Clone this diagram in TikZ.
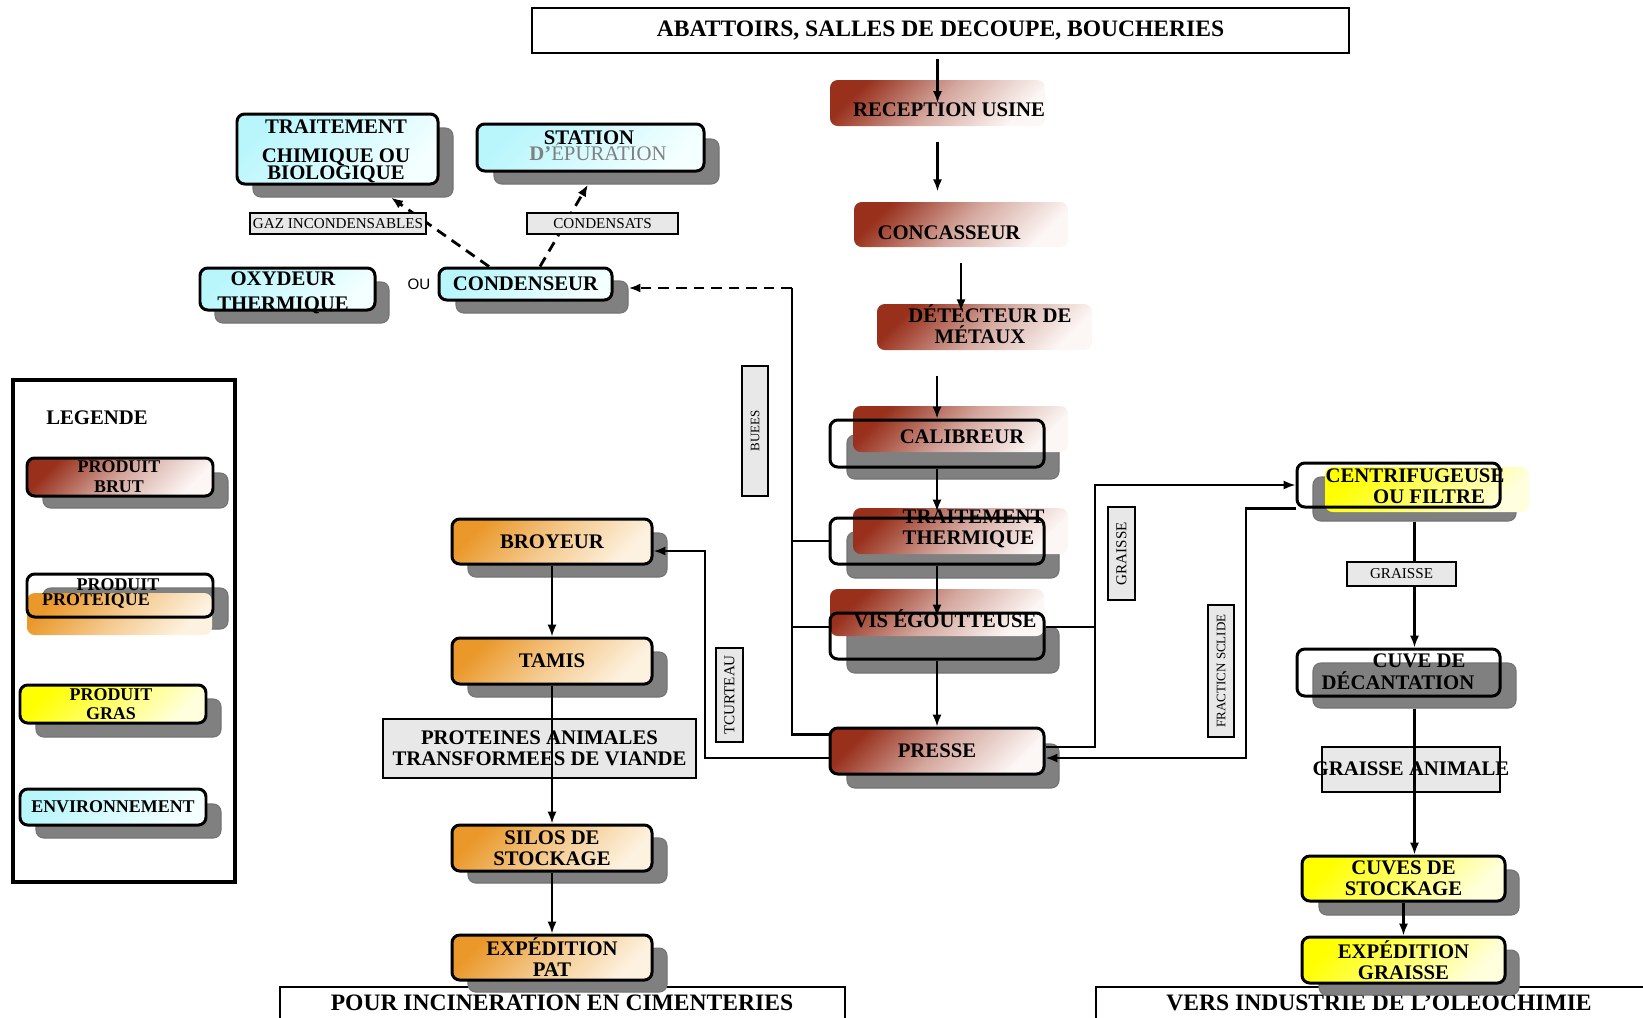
\documentclass[tikz,border=0pt]{standalone}
\usepackage{fontspec}
\setmainfont{Liberation Serif}
\newfontfamily\ousans{Liberation Sans}
\usepackage{tikz}
\usetikzlibrary{arrows.meta, fit}

\definecolor{brunD}{RGB}{152,48,28}
\definecolor{brunL}{RGB}{252,246,244}
\definecolor{orD}{RGB}{234,152,42}
\definecolor{orL}{RGB}{253,242,224}
\definecolor{jauneD}{RGB}{255,255,0}
\definecolor{jauneL}{RGB}{255,255,222}
\definecolor{cyanD}{RGB}{184,246,252}
\definecolor{cyanL}{RGB}{244,255,255}
\definecolor{ombreG}{RGB}{128,128,128}
\definecolor{etiqG}{RGB}{232,232,232}

\newcommand{\grandfont}{\bfseries\fontsize{6.7pt}{7pt}\selectfont}
\newcommand{\boitefont}{\bfseries\fontsize{5.9pt}{6pt}\selectfont}
\newcommand{\legfont}{\bfseries\fontsize{5.1pt}{5.5pt}\selectfont}
\newcommand{\petitfont}{\mdseries\fontsize{4.3pt}{5pt}\selectfont}
\newcommand{\minifont}{\mdseries\fontsize{3.7pt}{4.5pt}\selectfont}

\begin{document}
\begin{tikzpicture}[x=0.01cm, y=-0.01cm, font=\boitefont,
  boite/.style={inner sep=0pt, rounded corners=2.2pt},
  brut/.style={boite, top color=brunD, bottom color=brunL,
    middle color=brunD!40!brunL, shading angle=45},
  prot/.style={boite, top color=orD, bottom color=orL,
    middle color=orD!45!orL, shading angle=45},
  gras/.style={boite, top color=jauneD, bottom color=jauneL, shading angle=45},
  envir/.style={boite, top color=cyanD, bottom color=cyanL, shading angle=45},
  bord/.style={draw=black, line width=0.85pt},
  contour/.style={boite, bord},
  ombre/.style={boite, fill=ombreG, draw=black!55, line width=0.3pt},
  etiq/.style={draw=black, fill=etiqG, line width=0.6pt, inner sep=0pt,
    font=\petitfont},
  cadre/.style={draw=black, line width=0.6pt, inner sep=0pt},
  txt/.style={inner sep=0pt, align=center},
  trait/.style={line width=0.6pt},
  fleche/.style={trait, -{Latex[length=3.4pt, width=2.6pt]}},
  tiret/.style={line width=0.8pt, dash pattern=on 3pt off 2pt,
    -{Latex[length=3.4pt, width=2.6pt]}},
]
  \path[use as bounding box, clip] (0,0) rectangle (1643,1017);

  \node[cadre, fit={(532,8) (1349,53)}] (abat) {};
  \node[txt, font=\grandfont] (t-abat) at (abat) {ABATTOIRS, SALLES DE DECOUPE, BOUCHERIES};
  \node[cadre, fill=white, fit={(280,987) (845,1040)}] (incin) {};
  \node[txt, font=\grandfont] (t-incin) at (562,1003) {POUR INCINERATION EN CIMENTERIES};
  \node[cadre, fill=white, fit={(1096,987) (1660,1040)}] (oleo) {};
  \node[txt, font=\grandfont] (t-oleo) at (1379,1003) {VERS INDUSTRIE DE L’OLEOCHIMIE};

  % colonne produit brut
  \node[brut, fit={(830,80) (1045,126)}] (recep) {};
  \node[txt] (t-recep) at (949,110) {RECEPTION USINE};
  \node[brut, fit={(854,202) (1068,247)}] (conc) {};
  \node[txt] (t-conc) at (949,233) {CONCASSEUR};
  \node[brut, fit={(877,304) (1092,350)}] (detect) {};
  \node[txt] (t-detect) at (985,324) {\hspace*{0.1cm}DÉTECTEUR DE\\\hspace*{-0.1cm}MÉTAUX};

  \node[ombre, fit={(847,435) (1059,479)}] (calib-o) {};
  \node[brut, fit={(853,406) (1068,452)}] (calib-g) {};
  \node[contour, fit={(830,420) (1044,467)}] (calib) {};
  \node[txt] (t-calib) at (962,437) {CALIBREUR};

  \node[ombre, fit={(847,532) (1059,578)}] (therm-o) {};
  \node[brut, fit={(853,508) (1068,554)}] (therm-g) {};
  \node[contour, fit={(830,518) (1044,564)}] (therm) {};
  \node[txt, align=left, anchor=west] (t-therm) at (902,528.5) {TRAITEMENT\\THERMIQUE};

  \node[ombre, fit={(847,627) (1059,673)}] (vis-o) {};
  \node[brut, fit={(830,589) (1044,636)}] (vis-g) {};
  \node[contour, fit={(830,613) (1044,659)}] (vis) {};
  \node[txt] (t-vis) at (945,619) {VIS ÉGOUTTEUSE};

  \node[ombre, fit={(847,744) (1059,788)}] (presse-o) {};
  \node[brut, bord, fit={(830,728) (1044,774)}] (presse) {};
  \node[txt] (t-presse) at (presse) {PRESSE};

  \draw[fleche, shorten <=0.05cm] (abat.south -| recep) -- (recep.center);
  \draw[fleche, shorten <=0.15cm, shorten >=0.1cm] (recep.south) -- (recep.south |- conc.north);
  \draw[fleche, shorten <=0.15cm, shorten >=-0.08cm] (conc.south) -- (conc.south |- detect.north);
  \draw[fleche, shorten <=0.25cm] (detect.south -| calib) -- (calib.north);
  \draw[fleche, shorten >=0.05cm] (calib.south) -- (therm.north);
  \draw[fleche, shorten >=-0.05cm] (therm.south) -- (vis.north);
  \draw[fleche] (vis.south) -- (presse.north);

  % environnement
  \node[ombre, fit={(253,128) (453,197)}] (tcb-o) {};
  \node[envir, bord, fit={(237,114) (438,184)}] (tcb) {};
  \node[txt] (t-tcb) at (336,151) {TRAITEMENT\\[0.08cm]CHIMIQUE OU\\[-0.04cm]BIOLOGIQUE};
  \node[ombre, fit={(494,139) (719,184)}] (stat-o) {};
  \node[envir, bord, fit={(477,124) (704,171)}] (stat) {};
  \node[txt] (t-stat) at (598,146)
    {\hspace*{-0.18cm}STATION\\[-0.05cm]{\color{gray}D’\mdseries ÉPURATION}};
  \node[ombre, fit={(215,282) (389,323)}] (oxy-o) {};
  \node[envir, bord, fit={(200,268) (375,310)}] (oxy) {};
  \node[txt] (t-oxy) at (283,293) {OXYDEUR\\[0.04cm]THERMIQUE};
  \node[txt, font=\ousans\fontsize{4.3pt}{5pt}\selectfont] (ou) at (419,284) {OU};
  \node[ombre, fit={(456,281) (628,313)}] (cond-o) {};
  \node[envir, bord, fit={(439,268) (612,300)}] (cond) {};
  \node[txt] (t-cond) at (cond) {CONDENSEUR};

  \draw[tiret] ([xshift=-0.365cm]cond.north) -- ([xshift=0.38cm]tcb-o.south);
  \draw[tiret] ([xshift=0.145cm]cond.north) -- ([xshift=-0.185cm]stat-o.south);
  \node[etiq, minimum width=1.76cm, minimum height=0.21cm] (l-gaz) at (338,223.5) {GAZ INCONDENSABLES};
  \node[etiq, minimum width=1.51cm, minimum height=0.21cm] (l-cond) at (602.5,223.5) {CONDENSATS};

  \coordinate (buee) at (792,288);
  \draw[trait] ([yshift=-0.08cm]presse.north west) -| (buee);
  \draw[trait] (therm.west) -- (therm.west -| buee);
  \draw[trait] ([yshift=0.09cm]vis.west) -- ([yshift=0.09cm]vis.west -| buee);
  \draw[tiret] (buee) -- (buee -| cond-o.east);
  \node[etiq, rotate=90, minimum width=1.30cm, minimum height=0.26cm, font=\minifont]
    (l-buees) at (755,431) {BUEES};

  % colonne produit proteique
  \node[ombre, fit={(468,533) (667,577)}] (broy-o) {};
  \node[prot, bord, fit={(452,519) (652,564)}] (broy) {};
  \node[txt] (t-broy) at (broy) {BROYEUR};
  \node[ombre, fit={(468,652) (667,697)}] (tamis-o) {};
  \node[prot, bord, fit={(452,638) (652,684)}] (tamis) {};
  \node[txt] (t-tamis) at (tamis) {TAMIS};
  \node[cadre, fill=etiqG, fit={(383,719) (696,778)}] (pat) {};
  \node[txt] (t-pat) at (pat) {PROTEINES ANIMALES\\TRANSFORMEES DE VIANDE};
  \node[ombre, fit={(468,838) (667,883)}] (silos-o) {};
  \node[prot, bord, fit={(452,825) (652,871)}] (silos) {};
  \node[txt] (t-silos) at (silos) {SILOS DE\\STOCKAGE};
  \node[ombre, fit={(468,948) (667,992)}] (exppat-o) {};
  \node[prot, bord, fit={(452,935) (652,980)}] (exppat) {};
  \node[txt] (t-exppat) at (exppat) {EXPÉDITION\\PAT};
  \draw[fleche] (broy) -- (tamis);
  \draw[fleche] (tamis) -- (silos);
  \draw[fleche] (silos) -- (exppat);

  \coordinate (tourt) at (705,551);
  \draw[fleche] ([yshift=-0.07cm]presse.west) -| (tourt) -- (tourt -| broy.east);
  \node[etiq, rotate=90, minimum width=0.94cm, minimum height=0.27cm]
    (l-tourt) at (729.5,695) {TCURTEAU};

  % colonne produit gras
  \node[ombre, fit={(1313,477) (1516,521)}] (centri-o) {};
  \node[gras, fit={(1325,467) (1529,512)}] (centri-g) {};
  \node[contour, fit={(1297,463) (1500,507)}] (centri) {};
  \node[txt] (t-centri) at (1415,486.5) {CENTRIFUGEUSE\\\hspace*{0.28cm}OU FILTRE};

  \coordinate (gr) at (1095,485);
  \draw[trait] ([yshift=0.04cm]presse.east) -| (gr);
  \draw[fleche] ([yshift=0.09cm]vis.east) -| (gr) -- (gr -| centri.west);
  \coordinate (fs) at (1246,758);
  \draw[fleche] (centri.south west) -| (fs) -- (fs -| presse.east);
  \node[etiq, rotate=90, minimum width=0.93cm, minimum height=0.27cm]
    (l-graisse) at (1121.5,553.5) {GRAISSE};
  \node[etiq, rotate=90, minimum width=1.32cm, minimum height=0.26cm, font=\minifont]
    (l-fs) at (1221,671) {FRACTICN SCLIDE};

  \node[ombre, fit={(1313,663) (1516,708)}] (cuve-o) {};
  \node[contour, fit={(1297,649) (1500,696)}] (cuve) {};
  \node[txt] (t-cuve) at (1398,671.5) {\hspace*{0.42cm}CUVE DE\\[0.01cm]DÉCANTATION};
  \draw[fleche] (centri-o.south) -- (centri-o.south |- cuve.north);
  \node[etiq, minimum width=1.09cm, minimum height=0.24cm] (l-gr) at (1401.5,574) {GRAISSE};

  \node[cadre, fill=etiqG, fit={(1322,747) (1500,792)}] (ganim) {};
  \node[txt] (t-ganim) at (1411,769) {GRAISSE ANIMALE};
  \node[ombre, fit={(1319,870) (1519,915)}] (cuvst-o) {};
  \node[gras, bord, fit={(1302,856) (1505,901)}] (cuvst) {};
  \node[txt] (t-cuvst) at (cuvst) {CUVES DE\\STOCKAGE};
  \node[ombre, fit={(1319,950) (1519,995)}] (expg-o) {};
  \node[gras, bord, fit={(1302,937) (1505,983)}] (expg) {};
  \node[txt] (t-expg) at (expg) {EXPÉDITION\\GRAISSE};
  \draw[fleche] (cuve-o.south) -- (cuve-o.south |- cuvst.north);
  \draw[fleche] (cuvst) -- (expg);

  % legende
  \node[draw=black, line width=1.3pt, inner sep=0pt, fit={(13,380) (235,882)}] (leg) {};
  \node[txt] (t-leg) at (97,418) {LEGENDE};
  \node[ombre, fit={(43,473) (228,508)}] (lbrut-o) {};
  \node[brut, bord, fit={(27,458) (213,496)}] (lbrut) {};
  \node[txt, font=\legfont] (t-lbrut) at (119,476.5) {PRODUIT\\BRUT};
  \node[ombre, fit={(43,588) (228,629)}] (lprot-o) {};
  \node[prot, fit={(27,593) (212,635)}] (lprot-g) {};
  \node[contour, fit={(27,574) (213,617)}] (lprot) {};
  \node[txt, font=\legfont] (t-lprot) at (118,593.5) {PRODUIT\\[-0.04cm]\hspace*{-0.44cm}PROTEIQUE};
  \node[ombre, fit={(36,699) (221,737)}] (lgras-o) {};
  \node[gras, bord, fit={(20,685) (206,723)}] (lgras) {};
  \node[txt, font=\legfont] (t-lgras) at (111,704) {PRODUIT\\GRAS};
  \node[ombre, fit={(36,804) (221,838)}] (lenv-o) {};
  \node[envir, bord, fit={(20,789) (206,825)}] (lenv) {};
  \node[txt, font=\legfont] (t-lenv) at (lenv) {ENVIRONNEMENT};
\end{tikzpicture}
\end{document}
